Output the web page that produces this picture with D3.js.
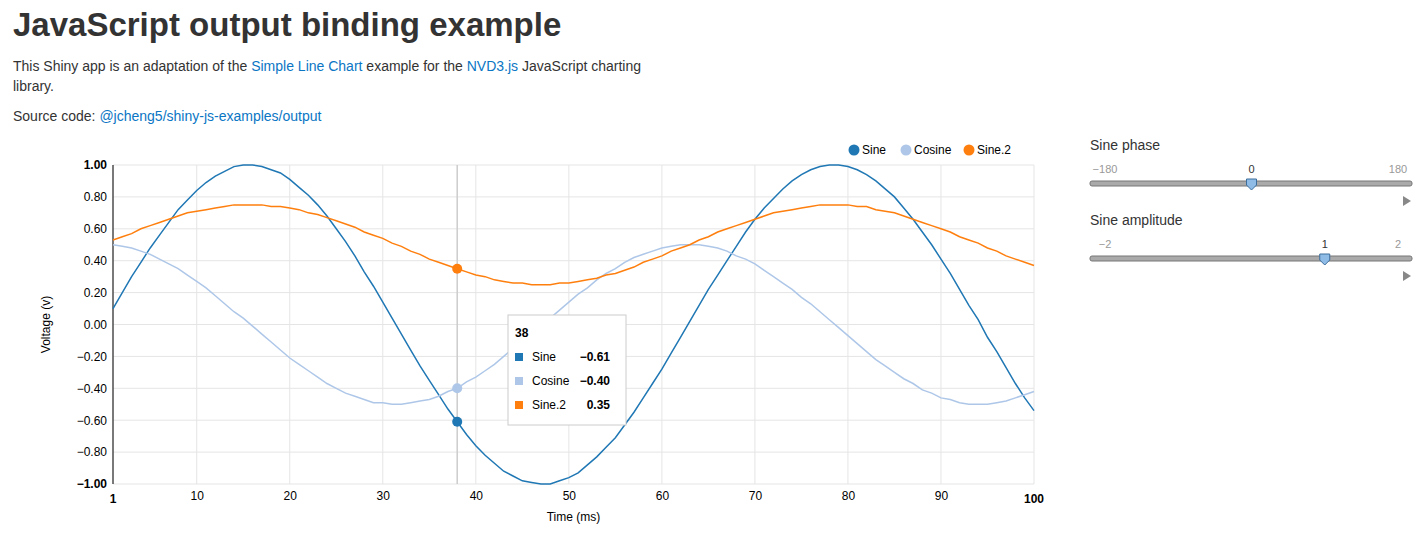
<!DOCTYPE html>
<html>
<head>
<meta charset="utf-8">
<script src="https://cdn.jsdelivr.net/npm/d3@7"></script>
<style>
  body { margin: 0; font-family: "Liberation Sans", Arial, sans-serif; color: #333; background: #fff; }
  h1 { position: absolute; left: 13px; top: 6px; margin: 0; font-size: 33px; font-weight: bold; }
  .intro { position: absolute; left: 13px; top: 56px; width: 660px; font-size: 14px; line-height: 20px; }
  .intro p { margin: 0 0 10px 0; }
  a { color: #0a76c4; text-decoration: none; }
  svg { position: absolute; left: 0; top: 0; }
  text { font-family: "Liberation Sans", Arial, sans-serif; }
</style>
</head>
<body>
<h1>JavaScript output binding example</h1>
<div class="intro">
  <p>This Shiny app is an adaptation of the <a href="#">Simple Line Chart</a> example for the <a href="#">NVD3.js</a> JavaScript charting library.</p>
  <p>Source code: <a href="#">@jcheng5/shiny-js-examples/output</a></p>
</div>
<svg id="chart" width="1428" height="547"></svg>
<script>
const seriesNames = ["Sine", "Cosine", "Sine.2"];
const seriesColors = ["#1f77b4", "#aec7e8", "#ff7f0e"];

const sine = [0.10,0.20,0.30,0.39,0.48,0.56,0.64,0.72,0.78,0.84,
  0.89,0.93,0.96,0.99,1.00,1.00,0.99,0.97,0.95,0.91,
  0.86,0.81,0.75,0.68,0.60,0.52,0.43,0.33,0.24,0.14,
  0.04,-0.06,-0.16,-0.26,-0.35,-0.44,-0.53,-0.61,-0.69,-0.76,
  -0.82,-0.87,-0.92,-0.95,-0.98,-0.99,-1.00,-1.00,-0.98,-0.96,
  -0.93,-0.88,-0.83,-0.77,-0.71,-0.63,-0.55,-0.46,-0.37,-0.28,
  -0.18,-0.08,0.02,0.12,0.22,0.31,0.40,0.49,0.58,0.66,
  0.73,0.79,0.85,0.90,0.94,0.97,0.99,1.00,1.00,0.99,
  0.97,0.94,0.90,0.85,0.80,0.73,0.66,0.58,0.50,0.41,
  0.32,0.22,0.12,0.03,-0.08,-0.17,-0.27,-0.37,-0.46,-0.54];

const cosine = [0.50,0.49,0.48,0.46,0.44,0.41,0.38,0.35,0.31,0.27,
  0.23,0.18,0.13,0.08,0.04,-0.01,-0.06,-0.11,-0.16,-0.21,
  -0.25,-0.29,-0.33,-0.37,-0.40,-0.43,-0.45,-0.47,-0.49,-0.49,
  -0.50,-0.50,-0.49,-0.48,-0.47,-0.45,-0.42,-0.40,-0.36,-0.33,
  -0.29,-0.25,-0.20,-0.15,-0.11,-0.06,-0.01,0.04,0.09,0.14,
  0.19,0.23,0.28,0.32,0.35,0.39,0.42,0.44,0.46,0.48,
  0.49,0.50,0.50,0.50,0.49,0.48,0.46,0.43,0.41,0.38,
  0.34,0.30,0.26,0.22,0.17,0.13,0.08,0.03,-0.02,-0.07,
  -0.12,-0.17,-0.22,-0.26,-0.30,-0.34,-0.37,-0.41,-0.43,-0.46,
  -0.47,-0.49,-0.50,-0.50,-0.50,-0.49,-0.48,-0.46,-0.44,-0.42];

const sine2 = [0.53,0.55,0.57,0.60,0.62,0.64,0.66,0.68,0.70,0.71,
  0.72,0.73,0.74,0.75,0.75,0.75,0.75,0.74,0.74,0.73,
  0.72,0.70,0.69,0.67,0.65,0.63,0.61,0.58,0.56,0.54,
  0.51,0.49,0.46,0.44,0.41,0.39,0.37,0.35,0.33,0.31,
  0.30,0.28,0.27,0.26,0.26,0.25,0.25,0.25,0.26,0.26,
  0.27,0.28,0.29,0.31,0.32,0.34,0.36,0.39,0.41,0.43,
  0.46,0.48,0.50,0.53,0.55,0.58,0.60,0.62,0.64,0.66,
  0.68,0.70,0.71,0.72,0.73,0.74,0.75,0.75,0.75,0.75,
  0.74,0.74,0.72,0.71,0.70,0.68,0.66,0.64,0.62,0.60,
  0.58,0.55,0.53,0.51,0.48,0.46,0.43,0.41,0.39,0.37];

const xTicks = [10, 20, 30, 40, 50, 60, 70, 80, 90];
const yTicks = [-0.8, -0.6, -0.4, -0.2, 0, 0.2, 0.4, 0.6, 0.8];
const hoverX = 38;

const series = [sine, cosine, sine2];

const svg = d3.select("#chart");
const pLeft = 113, pRight = 1034, pTop = 165, pBottom = 484;

const x = d3.scaleLinear().domain([1, 100]).range([pLeft, pRight]);
const y = d3.scaleLinear().domain([-1, 1]).range([pBottom, pTop]);

// grid
const g = svg.append("g");
g.selectAll(".vg").data([1].concat(xTicks, [100])).enter().append("line")
  .attr("x1", d => x(d)).attr("x2", d => x(d)).attr("y1", pTop).attr("y2", pBottom)
  .attr("stroke", "#e5e5e5");
g.selectAll(".hg").data([-1].concat(yTicks, [1])).enter().append("line")
  .attr("x1", pLeft).attr("x2", pRight).attr("y1", d => y(d)).attr("y2", d => y(d))
  .attr("stroke", "#e5e5e5");

// axes
const xAxis = svg.append("g").attr("transform", `translate(0,${pBottom})`)
  .call(d3.axisBottom(x).tickValues(xTicks).tickSize(0).tickPadding(7));
xAxis.select(".domain").remove();
xAxis.selectAll("text").attr("font-size", 12).attr("fill", "#000");
[1, 100].forEach(v => svg.append("text").attr("x", x(v)).attr("y", pBottom + 19)
  .attr("text-anchor", "middle").attr("font-size", 12).attr("font-weight", "bold").text(v));

const yAxis = svg.append("g").attr("transform", `translate(${pLeft},0)`)
  .call(d3.axisLeft(y).tickValues(yTicks).tickFormat(d3.format(".2f")).tickSize(0).tickPadding(6));
yAxis.select(".domain").remove();
yAxis.selectAll("text").attr("font-size", 12).attr("fill", "#000");
[-1, 1].forEach(v => svg.append("text").attr("x", pLeft - 6).attr("y", y(v) + 4)
  .attr("text-anchor", "end").attr("font-size", 12).attr("font-weight", "bold").text(d3.format(".2f")(v)));
svg.append("line").attr("x1", pLeft).attr("x2", pLeft).attr("y1", pTop).attr("y2", pBottom).attr("stroke", "#000");

svg.append("text").attr("x", (pLeft + pRight) / 2).attr("y", 521).attr("text-anchor", "middle")
  .attr("font-size", 12).text("Time (ms)");
svg.append("text").attr("transform", `translate(50,${(pTop + pBottom) / 2}) rotate(-90)`)
  .attr("text-anchor", "middle").attr("font-size", 12).text("Voltage (v)");

// hover line
svg.append("line").attr("x1", x(hoverX)).attr("x2", x(hoverX)).attr("y1", pTop).attr("y2", pBottom)
  .attr("stroke", "#ccc").attr("stroke-width", 1.5);

// lines
const line = d3.line().x((d, i) => x(i + 1)).y(d => y(d));
series.forEach((s, k) => svg.append("path").datum(s).attr("d", line)
  .attr("fill", "none").attr("stroke", seriesColors[k]).attr("stroke-width", 1.5));

series.forEach((s, k) => svg.append("circle").attr("cx", x(hoverX)).attr("cy", y(s[hoverX - 1]))
  .attr("r", 5).attr("fill", seriesColors[k]));

// legend
const legX = [854, 906, 969];
seriesNames.forEach((n, k) => {
  svg.append("circle").attr("cx", legX[k]).attr("cy", 150).attr("r", 5.5).attr("fill", seriesColors[k]);
  svg.append("text").attr("x", legX[k] + 8).attr("y", 154).attr("font-size", 12).attr("fill", "#000").text(n);
});

// tooltip
const tip = svg.append("g").attr("transform", "translate(508,315)");
tip.append("rect").attr("width", 118).attr("height", 110).attr("fill", "#fff")
  .attr("stroke", "#ccc");
tip.append("text").attr("x", 7).attr("y", 22).attr("font-size", 12).attr("font-weight", "bold").text(hoverX);
seriesNames.forEach((n, k) => {
  const yy = 42 + k * 24;
  tip.append("rect").attr("x", 7).attr("y", yy - 4).attr("width", 8).attr("height", 8).attr("fill", seriesColors[k]);
  tip.append("text").attr("x", 24).attr("y", yy + 4).attr("font-size", 12).text(n);
  tip.append("text").attr("x", 102).attr("y", yy + 4).attr("font-size", 12).attr("font-weight", "bold")
    .attr("text-anchor", "end").text(d3.format(".2f")(series[k][hoverX - 1]));
});

// sliders
const sliders = [
  { label: "Sine phase", min: -180, max: 180, value: 0, y0: 145 },
  { label: "Sine amplitude", min: -2, max: 2, value: 1, y0: 220 }
];
sliders.forEach(sl => {
  const s = d3.scaleLinear().domain([sl.min, sl.max]).range([1105, 1398]);
  const gs = svg.append("g");
  gs.append("text").attr("x", 1090).attr("y", sl.y0 + 5).attr("font-size", 14).attr("fill", "#333").text(sl.label);
  [sl.min, sl.max].forEach(v => gs.append("text").attr("x", s(v)).attr("y", sl.y0 + 28)
    .attr("text-anchor", "middle").attr("font-size", 11).attr("fill", "#999").text(v < 0 ? "\u2212" + (-v) : v));
  gs.append("text").attr("x", s(sl.value)).attr("y", sl.y0 + 28).attr("text-anchor", "middle")
    .attr("font-size", 11).attr("fill", "#333").text(sl.value);
  gs.append("rect").attr("x", 1090).attr("y", sl.y0 + 36).attr("width", 322).attr("height", 5)
    .attr("rx", 2).attr("fill", "#aaa").attr("stroke", "#777");
  const hx = s(sl.value), hy = sl.y0 + 34;
  gs.append("path").attr("d", `M${hx - 5},${hy} h10 v6 l-5,5 l-5,-5 z`)
    .attr("fill", "#8fbce6").attr("stroke", "#3d6e9c");
  gs.append("path").attr("d", `M1403,${sl.y0 + 51} l8,5 l-8,5 z`).attr("fill", "#888");
});
</script>
</body>
</html>
